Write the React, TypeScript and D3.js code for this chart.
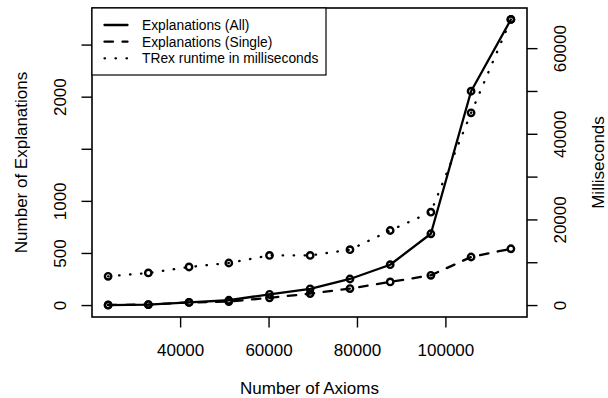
// import d3 and the react hooks we need
import * as d3 from "d3";
import { useRef, useEffect } from "react";

// number of axioms in each ontology (x values)
const axioms = [23600, 32700, 41900, 50900, 60100, 69300, 78300, 87400, 96600, 105700, 114700];

// number of explanations found, all and single
const explanationsAll = [4, 9, 30, 51, 108, 161, 255, 392, 689, 2057, 2746];
const explanationsSingle = [6, 9, 30, 38, 74, 115, 163, 227, 290, 466, 545];

// TRex runtime in milliseconds (right axis)
const runtimeMs = [6820, 7610, 9010, 9940, 11710, 11710, 13040, 17530, 21820, 45000, 66820];

// axis ticks and the labels R kept (empty = label dropped)
const xTicks = [40000, 60000, 80000, 100000];
const leftTicks = [0, 500, 1000, 1500, 2000, 2500];
const leftLabels = ["0", "500", "1000", "", "2000", ""];
const rightTicks = [0, 10000, 20000, 30000, 40000, 50000, 60000];
const rightLabels = ["0", "", "20000", "", "40000", "", "60000"];

// legend entries
const legendLabels = ["Explanations (All)", "Explanations (Single)", "TRex runtime in milliseconds"];

export default function App() {

    // ref for the svg
    const svgRef = useRef<SVGSVGElement>(null);

    useEffect(() => {

        // select svg and clear it
        const svg = d3.select(svgRef.current);
        svg.selectAll("*").remove();

        // plot box like R's par("usr") region
        const box = { left: 92, right: 527, top: 8, bottom: 317 };
        const font = "'Liberation Sans', Arial, Helvetica, sans-serif";
        const tick = 10.5;

        // R extends every range by 4% on each side
        const pad = (lo: number, hi: number) => { const r = hi - lo; return [lo - 0.04 * r, hi + 0.04 * r]; };

        // scales
        const x = d3.scaleLinear().domain(pad(d3.min(axioms)!, d3.max(axioms)!)).range([box.left, box.right]);
        const yL = d3.scaleLinear().domain(pad(0, d3.max(explanationsAll)!)).range([box.bottom, box.top]);
        const yR = d3.scaleLinear().domain(pad(0, d3.max(runtimeMs)!)).range([box.bottom, box.top]);

        // white background
        svg.append("rect").attr("width", 608).attr("height", 398).attr("fill", "white");

        // series with their scale and line style
        const series = [
            { values: explanationsAll, y: yL, dash: null },
            { values: explanationsSingle, y: yL, dash: "8.5 9.5" },
            { values: runtimeMs, y: yR, dash: "0.5 10.5" },
        ];

        series.forEach(s => {
            const line = d3.line<number>().x((d, i) => x(axioms[i])).y(d => s.y(d));
            svg.append("path").attr("d", line(s.values)).attr("fill", "none").attr("stroke", "black")
                .attr("stroke-width", 2.3).attr("stroke-linecap", "round").attr("stroke-linejoin", "round")
                .attr("stroke-dasharray", s.dash);
            svg.append("g").selectAll("circle").data(s.values).enter().append("circle")
                .attr("cx", (d, i) => x(axioms[i])).attr("cy", d => s.y(d)).attr("r", 3.2)
                .attr("fill", "none").attr("stroke", "black").attr("stroke-width", 2.4);
        });

        // plot box
        svg.append("rect").attr("x", box.left).attr("y", box.top).attr("width", box.right - box.left)
            .attr("height", box.bottom - box.top).attr("fill", "none").attr("stroke", "black").attr("stroke-width", 1.6);

        // bottom axis ticks and labels
        const gx = svg.append("g");
        gx.selectAll("line").data(xTicks).enter().append("line").attr("x1", d => x(d)).attr("x2", d => x(d))
            .attr("y1", box.bottom).attr("y2", box.bottom + tick).attr("stroke", "black").attr("stroke-width", 1.4);
        gx.selectAll("text").data(xTicks).enter().append("text").attr("x", d => x(d)).attr("y", 355.5)
            .attr("text-anchor", "middle").attr("font-family", font).attr("font-size", 17).text(d => String(d));

        // left axis ticks and rotated labels
        const gl = svg.append("g");
        gl.selectAll("line").data(leftTicks).enter().append("line").attr("x1", box.left - tick).attr("x2", box.left)
            .attr("y1", d => yL(d)).attr("y2", d => yL(d)).attr("stroke", "black").attr("stroke-width", 1.4);
        gl.selectAll("text").data(leftTicks).enter().append("text")
            .attr("transform", d => `translate(66,${yL(d)}) rotate(-90)`)
            .attr("text-anchor", "middle").attr("font-family", font).attr("font-size", 17).text((d, i) => leftLabels[i]);

        // right axis ticks and rotated labels
        const gr = svg.append("g");
        gr.selectAll("line").data(rightTicks).enter().append("line").attr("x1", box.right).attr("x2", box.right + tick)
            .attr("y1", d => yR(d)).attr("y2", d => yR(d)).attr("stroke", "black").attr("stroke-width", 1.4);
        gr.selectAll("text").data(rightTicks).enter().append("text")
            .attr("transform", d => `translate(566,${yR(d)}) rotate(-90)`)
            .attr("text-anchor", "middle").attr("font-family", font).attr("font-size", 17).text((d, i) => rightLabels[i]);

        // axis titles
        const midY = (box.top + box.bottom) / 2;
        svg.append("text").attr("x", (box.left + box.right) / 2).attr("y", 394).attr("text-anchor", "middle")
            .attr("font-family", font).attr("font-size", 17).text("Number of Axioms");
        svg.append("text").attr("transform", `translate(27,${midY}) rotate(-90)`).attr("text-anchor", "middle")
            .attr("font-family", font).attr("font-size", 17).text("Number of Explanations");
        svg.append("text").attr("transform", `translate(604,${midY}) rotate(-90)`).attr("text-anchor", "middle")
            .attr("font-family", font).attr("font-size", 17).text("Milliseconds");

        // legend in the top left corner
        const lg = svg.append("g");
        lg.append("rect").attr("x", box.left).attr("y", box.top).attr("width", 234).attr("height", 67)
            .attr("fill", "white").attr("stroke", "black").attr("stroke-width", 1.2);
        legendLabels.forEach((label, i) => {
            const ly = box.top + 17 + i * 16.65;
            lg.append("line").attr("x1", 104.5).attr("x2", 127.5).attr("y1", ly).attr("y2", ly)
                .attr("stroke", "black").attr("stroke-width", 2.3).attr("stroke-linecap", "round")
                .attr("stroke-dasharray", series[i].dash);
            lg.append("text").attr("x", 142).attr("y", ly + 5).attr("font-family", font).attr("font-size", 13.8).text(label);
        });

    }, []);

    // svg pinned to the page corner
    return (
        <svg ref={svgRef} width={608} height={398} style={{ position: "absolute", left: 0, top: 0, display: "block" }} />
    );
}
